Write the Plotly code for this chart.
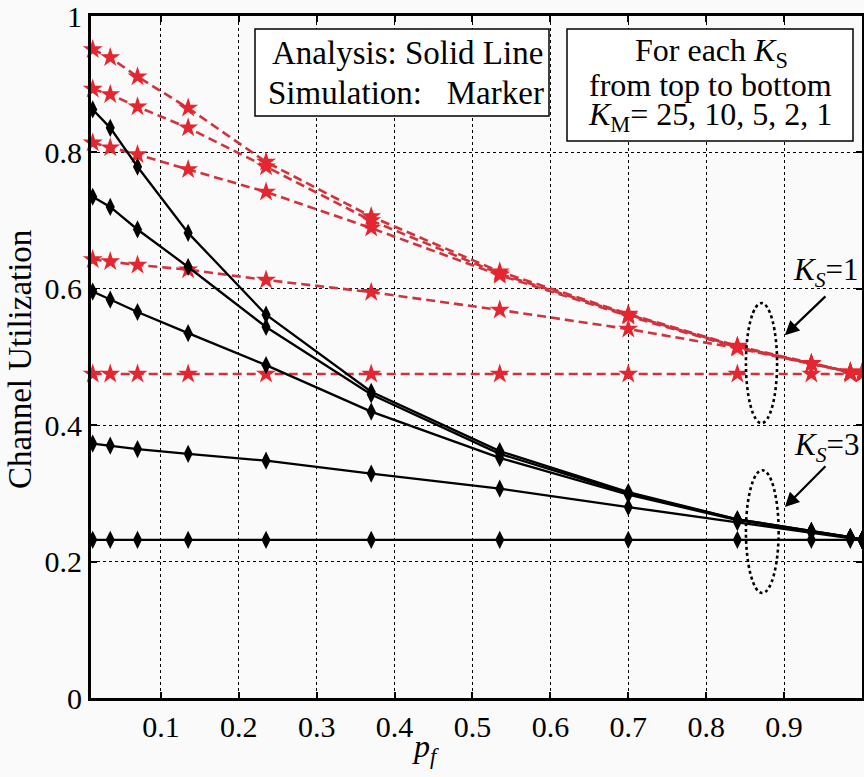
import plotly.graph_objects as go

# ---------------- data ----------------
pf = [0.0125, 0.035, 0.07, 0.135, 0.235, 0.37, 0.535, 0.70, 0.84, 0.935, 0.985, 1.0]

# K_S = 1 (red, dashed, star markers), K_M = 25, 10, 5, 2, 1
ks1_km25 = [0.951, 0.939, 0.911, 0.865, 0.786, 0.706, 0.625, 0.563, 0.516, 0.491, 0.478, 0.476]
ks1_km10 = [0.893, 0.885, 0.867, 0.836, 0.779, 0.700, 0.622, 0.562, 0.515, 0.490, 0.478, 0.476]
ks1_km5 = [0.814, 0.807, 0.797, 0.775, 0.742, 0.689, 0.620, 0.560, 0.514, 0.490, 0.478, 0.476]
ks1_km2 = [0.643, 0.640, 0.635, 0.628, 0.613, 0.595, 0.569, 0.541, 0.513, 0.490, 0.478, 0.476]
ks1_km1 = [0.475, 0.475, 0.475, 0.475, 0.475, 0.475, 0.475, 0.475, 0.475, 0.475, 0.475, 0.475]

# K_S = 3 (black, solid, diamond markers)
ks3_km25 = [0.863, 0.836, 0.779, 0.682, 0.562, 0.449, 0.362, 0.302, 0.262, 0.245, 0.236, 0.232]
ks3_km10 = [0.735, 0.720, 0.687, 0.632, 0.544, 0.445, 0.358, 0.300, 0.262, 0.245, 0.236, 0.232]
ks3_km5 = [0.596, 0.584, 0.566, 0.535, 0.488, 0.420, 0.352, 0.298, 0.261, 0.244, 0.236, 0.232]
ks3_km2 = [0.373, 0.370, 0.365, 0.358, 0.348, 0.329, 0.307, 0.280, 0.258, 0.243, 0.235, 0.232]
ks3_km1 = [0.232, 0.232, 0.232, 0.232, 0.232, 0.232, 0.232, 0.232, 0.232, 0.232, 0.232, 0.232]

x_ticks = [0.1, 0.2, 0.3, 0.4, 0.5, 0.6, 0.7, 0.8, 0.9]
x_ticklabels = ["0.1", "0.2", "0.3", "0.4", "0.5", "0.6", "0.7", "0.8", "0.9"]
y_ticks = [0, 0.2, 0.4, 0.6, 0.8, 1.0]
y_ticklabels = ["0", "0.2", "0.4", "0.6", "0.8", "1"]

FONT = "Liberation Serif"
RED = "#e3262f"
RED_LINE = "#d2323c"

fig = go.Figure()

for ys in [ks1_km25, ks1_km10, ks1_km5, ks1_km2, ks1_km1]:
    fig.add_trace(go.Scatter(
        x=pf, y=ys, mode="lines+markers",
        line=dict(color=RED_LINE, width=2.6, dash="9px,5px"),
        marker=dict(symbol="star", size=15, color=RED, line=dict(width=0)),
        showlegend=False, cliponaxis=False))

for ys in [ks3_km25, ks3_km10, ks3_km5, ks3_km2, ks3_km1]:
    fig.add_trace(go.Scatter(
        x=pf, y=ys, mode="lines+markers",
        line=dict(color="black", width=2.3),
        marker=dict(symbol="diamond-tall", size=13, color="black", line=dict(width=0)),
        showlegend=False, cliponaxis=False))

axis_common = dict(
    showline=True, linecolor="black", linewidth=2.8, mirror="ticks",
    ticks="inside", ticklen=6, tickwidth=1.5, tickcolor="black",
    showgrid=True, gridcolor="black", gridwidth=1.3, griddash="dot",
    zeroline=False, automargin=False, ticklabeloverflow="allow",
    tickfont=dict(family=FONT, size=30, color="black"),
)

fig.update_xaxes(range=[0.0103, 1.0], tickvals=x_ticks, ticktext=x_ticklabels, **axis_common)
fig.update_yaxes(range=[0, 1.0], tickvals=y_ticks, ticktext=y_ticklabels, **axis_common)

# ellipses
ell = dict(type="circle", xref="x", yref="y", line=dict(color="black", width=2.6, dash="dot"))
fig.add_shape(x0=0.851, x1=0.891, y0=0.403, y1=0.579, **ell)
fig.add_shape(x0=0.851, x1=0.893, y0=0.154, y1=0.334, **ell)

# text boxes
box = dict(type="rect", xref="paper", yref="paper", line=dict(color="black", width=1.5), fillcolor="white", layer="above")
fig.add_shape(x0=(255 - 91) / 771, x1=(549 - 91) / 771, y0=(698 - 116) / 682, y1=(698 - 29) / 682, **box)
fig.add_shape(x0=(567 - 91) / 771, x1=(853 - 91) / 771, y0=(698 - 141) / 682, y1=(698 - 29) / 682, **box)

annotations = []
def txt(text, px, py, size=33, xanchor="center", angle=0):
    annotations.append(dict(text=text, x=(px - 91) / 771, y=(698 - py) / 682, xref="paper", yref="paper",
                            showarrow=False, xanchor=xanchor, yanchor="middle", textangle=angle,
                            font=dict(family=FONT, size=size, color="black")))

txt("Analysis: Solid Line", 407, 53)
txt("Simulation:&nbsp;&nbsp; Marker", 406, 93)
txt("For each <i>K</i><sub>S</sub>", 711, 53, size=32)
txt("from top to bottom", 710, 85, size=32)
txt("<i>K</i><sub>M</sub>= 25, 10, 5, 2, 1", 710, 117, size=32)

txt("<i>K<sub>S</sub></i>=1", 861, 272, size=31, xanchor="right")
txt("<i>K<sub>S</sub></i>=3", 862, 447, size=31, xanchor="right")

txt("Channel Utilization", 20, 360, size=33, angle=-90)
txt("<i>p<sub>f</sub></i>", 425, 748, size=32)

# arrows
for head, tail in [((0.901, 0.532), (0.955, 0.591)), ((0.901, 0.280), (0.955, 0.342))]:
    annotations.append(dict(x=head[0], y=head[1], ax=tail[0], ay=tail[1], xref="x", yref="y",
                            axref="x", ayref="y", text="", showarrow=True, arrowhead=2,
                            arrowsize=1.3, arrowwidth=2.2, arrowcolor="black"))

fig.update_layout(
    width=864, height=777,
    margin=dict(l=91, r=2, t=16, b=79),
    paper_bgcolor="#fafafa", plot_bgcolor="#fafafa",
    annotations=annotations,
    font=dict(family=FONT, color="black"),
)

fig.write_html("out.html", config={"displayModeBar": False},
               post_script="document.body.style.margin='0px';document.body.style.overflow='hidden';")
